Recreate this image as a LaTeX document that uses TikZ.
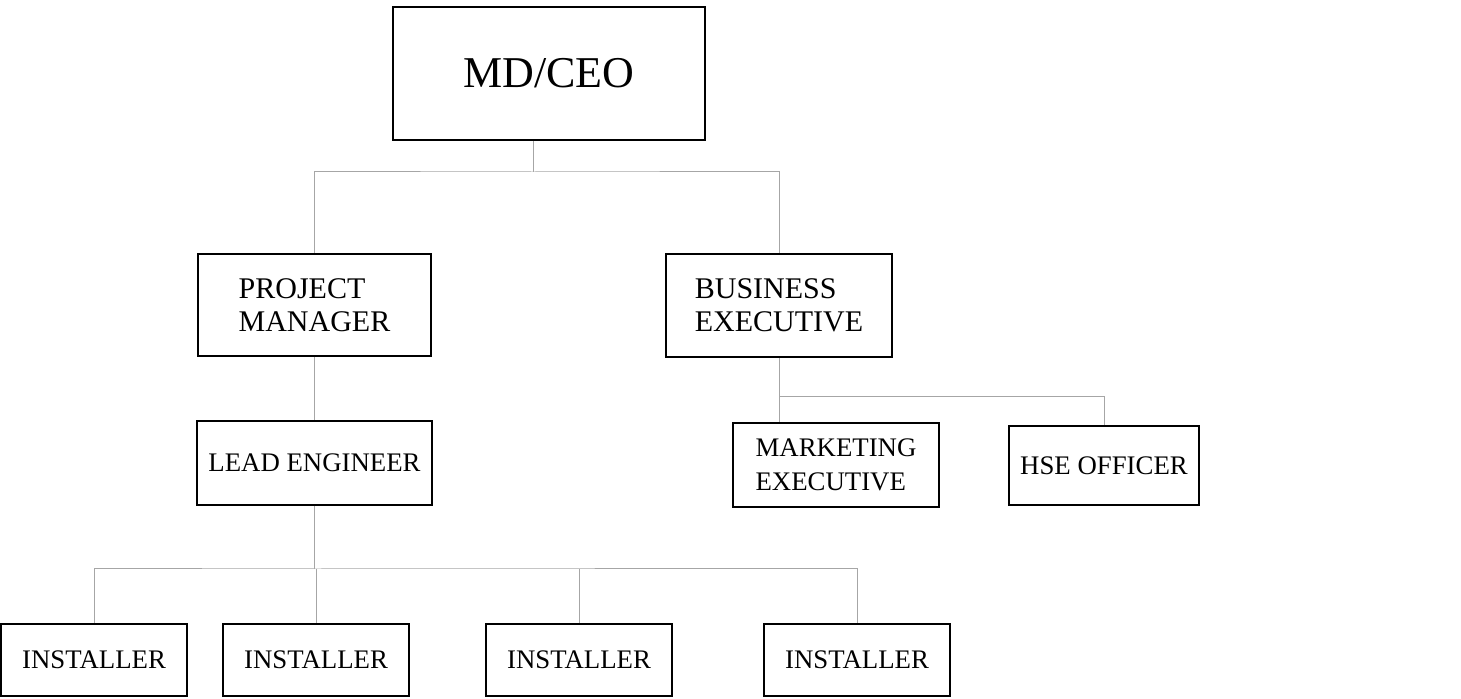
\documentclass[tikz,border=0pt]{standalone}
\usepackage{fontspec}
\setmainfont{Liberation Serif}
\begin{document}
\begin{tikzpicture}[x = .5pt, y = -.5pt,
	post/.style = {draw, line width = 1pt, inner sep = 0pt, align = left,
		font = \fontsize{13.4}{17}\selectfont},
	link/.style = {draw = black!35, line width = .5pt}]
\useasboundingbox (0,0) rectangle (1461,699);
\node[post, minimum width = 156pt, minimum height = 66.5pt,
	font = \fontsize{22}{26}\selectfont] (ceo) at (549,73.5) {MD/CEO};
\node[post, minimum width = 116.5pt, minimum height = 51pt,
	font = \fontsize{15}{16.5}\selectfont] (pm) at (314.5,305) {PROJECT\\MANAGER};
\node[post, minimum width = 113pt, minimum height = 51.5pt,
	font = \fontsize{15}{16.5}\selectfont] (be) at (779,305.5) {BUSINESS\\EXECUTIVE};
\node[post, minimum width = 117.5pt, minimum height = 42pt] (le) at (314.5,463) {LEAD ENGINEER};
\node[post, minimum width = 103pt, minimum height = 42pt] (me) at (836,465) {MARKETING\\EXECUTIVE};
\node[post, minimum width = 95pt, minimum height = 39.5pt] (hse) at (1104,465.5) {HSE OFFICER};
\node[post, minimum width = 93pt, minimum height = 36pt] (inst1) at (94,660) {INSTALLER};
\node[post, minimum width = 93pt, minimum height = 36pt] (inst2) at (316,660) {INSTALLER};
\node[post, minimum width = 93pt, minimum height = 36pt] (inst3) at (579,660) {INSTALLER};
\node[post, minimum width = 93pt, minimum height = 36pt] (inst4) at (857,660) {INSTALLER};

% top level
\coordinate (top) at (533,172);
\draw[link] (ceo.south -| top) -- (top);
\draw[link] (pm.north) |- (top) -| (be.north);
\draw[link] (pm.south) -- (le.north);
% business side
\coordinate (mid) at (779,397);
\draw[link] (be.south) -- (be.south |- me.north);
\draw[link] (mid) -| (hse.north);
% installers
\coordinate (low) at (316,569);
\draw[link] (le.south) -- (le.south |- low);
\draw[link] (inst1.north) |- (low) -| (inst4.north);
\draw[link] (inst2.north) -- (inst2.north |- low);
\draw[link] (inst3.north) -- (inst3.north |- low);
\end{tikzpicture}
\end{document}
